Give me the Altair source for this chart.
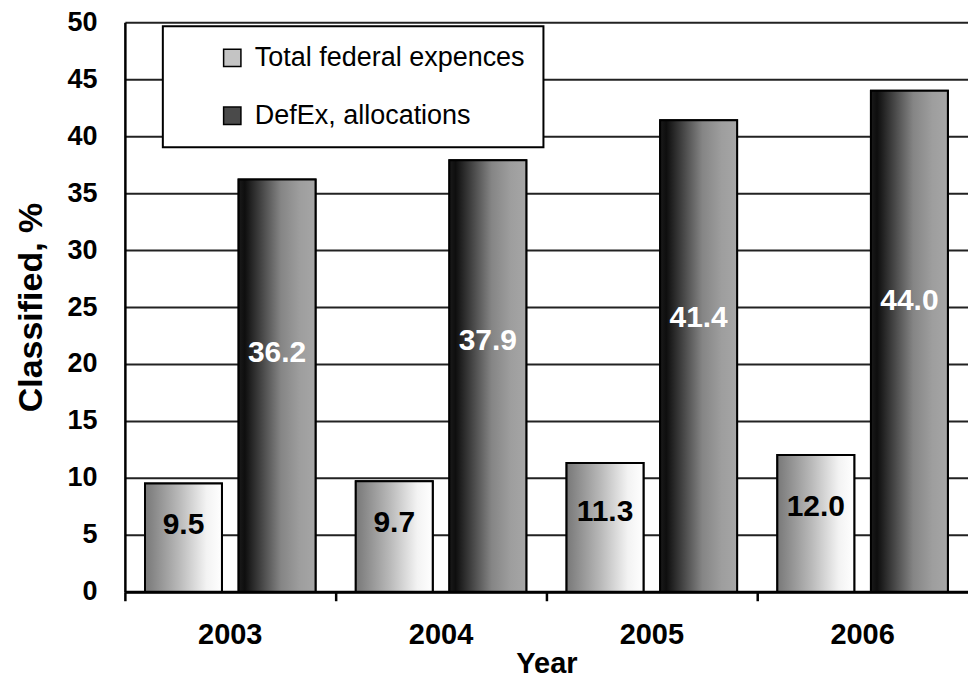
import altair as alt
import pandas as pd

years = ["2003", "2004", "2005", "2006"]
series_names = ["Total federal expences", "DefEx, allocations"]
total_federal = [9.5, 9.7, 11.3, 12.0]
defex_alloc = [36.2, 37.9, 41.4, 44.0]

rows = []
for i, y in enumerate(years):
    rows.append({"year": y, "series": series_names[0], "value": total_federal[i]})
    rows.append({"year": y, "series": series_names[1], "value": defex_alloc[i]})
df = pd.DataFrame(rows)

FONT = "Liberation Sans, Arial, sans-serif"

grad_light = {
    "gradient": "linear", "x1": 0, "x2": 1, "y1": 0, "y2": 0,
    "stops": [
        {"offset": 0.0, "color": "#787878"},
        {"offset": 0.45, "color": "#bababa"},
        {"offset": 0.8, "color": "#f3f3f3"},
        {"offset": 1.0, "color": "#ffffff"},
    ],
}
grad_dark = {
    "gradient": "linear", "x1": 0, "x2": 1, "y1": 0, "y2": 0,
    "stops": [
        {"offset": 0.0, "color": "#1a1a1a"},
        {"offset": 0.08, "color": "#0e0e0e"},
        {"offset": 0.55, "color": "#858585"},
        {"offset": 0.8, "color": "#9e9e9e"},
        {"offset": 1.0, "color": "#a6a6a6"},
    ],
}

x_enc = alt.X(
    "year:N",
    scale=alt.Scale(domain=years, paddingInner=0, paddingOuter=0),
    axis=alt.Axis(
        title="Year", domain=True, domainColor="black", domainWidth=3,
        grid=False, ticks=True, tickSize=9, tickWidth=2.5, tickColor="black",
        bandPosition=0, labelAngle=0, labelFont=FONT, labelFontSize=29,
        labelFontWeight="bold", labelColor="black", labelPadding=20,
        titleFont=FONT, titleFontSize=29, titleFontWeight="bold",
        titleColor="black", titlePadding=0,
    ),
)
xoff = alt.XOffset(
    "series:N",
    scale=alt.Scale(domain=series_names, paddingInner=0.178, paddingOuter=0.215),
)
y_axis = alt.Axis(
    title="Classified, %", values=list(range(0, 51, 5)), ticks=False,
    domainColor="black", domainWidth=2.5, grid=True, gridColor="#222222",
    gridWidth=2, labelFont=FONT, labelFontSize=27, labelFontWeight="bold",
    labelColor="black", labelPadding=28, titleFont=FONT, titleFontSize=34,
    titleFontWeight="bold", titleColor="black", titlePadding=18,
)
y_scale = alt.Scale(domain=[0, 50], nice=False)

base = alt.Chart(df)

legend_bars = base.mark_bar(stroke="black", strokeWidth=2).encode(
    x=x_enc,
    xOffset=xoff,
    y=alt.Y("value:Q", scale=y_scale, axis=y_axis),
    color=alt.Color(
        "series:N",
        scale=alt.Scale(domain=series_names, range=["#c4c4c4", "#4a4a4a"]),
        legend=alt.Legend(
            title=None, orient="none", legendX=38, legendY=4,
            fillColor="white", strokeColor="black", padding=18,
            symbolType="square", symbolSize=300, symbolStrokeColor="black",
            symbolStrokeWidth=1.5, symbolOffset=38, labelFont=FONT,
            labelFontSize=27, labelColor="black", labelOffset=9,
            rowPadding=30, labelLimit=400, symbolOpacity=1,
        ),
    ),
)

light_bars = base.transform_filter(
    alt.datum.series == series_names[0]
).mark_bar(fill=grad_light, stroke="black", strokeWidth=2).encode(
    x=x_enc, xOffset=xoff, y=alt.Y("value:Q", scale=y_scale, axis=y_axis)
)
dark_bars = base.transform_filter(
    alt.datum.series == series_names[1]
).mark_bar(fill=grad_dark, stroke="black", strokeWidth=2).encode(
    x=x_enc, xOffset=xoff, y=alt.Y("value:Q", scale=y_scale, axis=y_axis)
)

light_text = base.transform_filter(
    alt.datum.series == series_names[0]
).transform_calculate(ly="datum.value * 0.62").mark_text(
    font=FONT, fontSize=30, fontWeight="bold", color="black", baseline="middle"
).encode(
    x=x_enc, xOffset=xoff,
    y=alt.Y("ly:Q", scale=y_scale, axis=y_axis),
    text=alt.Text("value:Q", format=".1f"),
)
dark_text = base.transform_filter(
    alt.datum.series == series_names[1]
).transform_calculate(ly="datum.value * 0.58").mark_text(
    font=FONT, fontSize=30, fontWeight="bold", color="white", baseline="middle"
).encode(
    x=x_enc, xOffset=xoff,
    y=alt.Y("ly:Q", scale=y_scale, axis=y_axis),
    text=alt.Text("value:Q", format=".1f"),
)

chart = alt.layer(
    legend_bars, light_bars, dark_bars, light_text, dark_text
).properties(
    width=844, height=570, background="white",
    padding={"left": 6, "top": 0, "right": 0, "bottom": 0},
).configure_view(stroke=None).configure_legend(strokeWidth=2)

chart.save("out.html", embed_options={"renderer": "svg", "actions": False})
